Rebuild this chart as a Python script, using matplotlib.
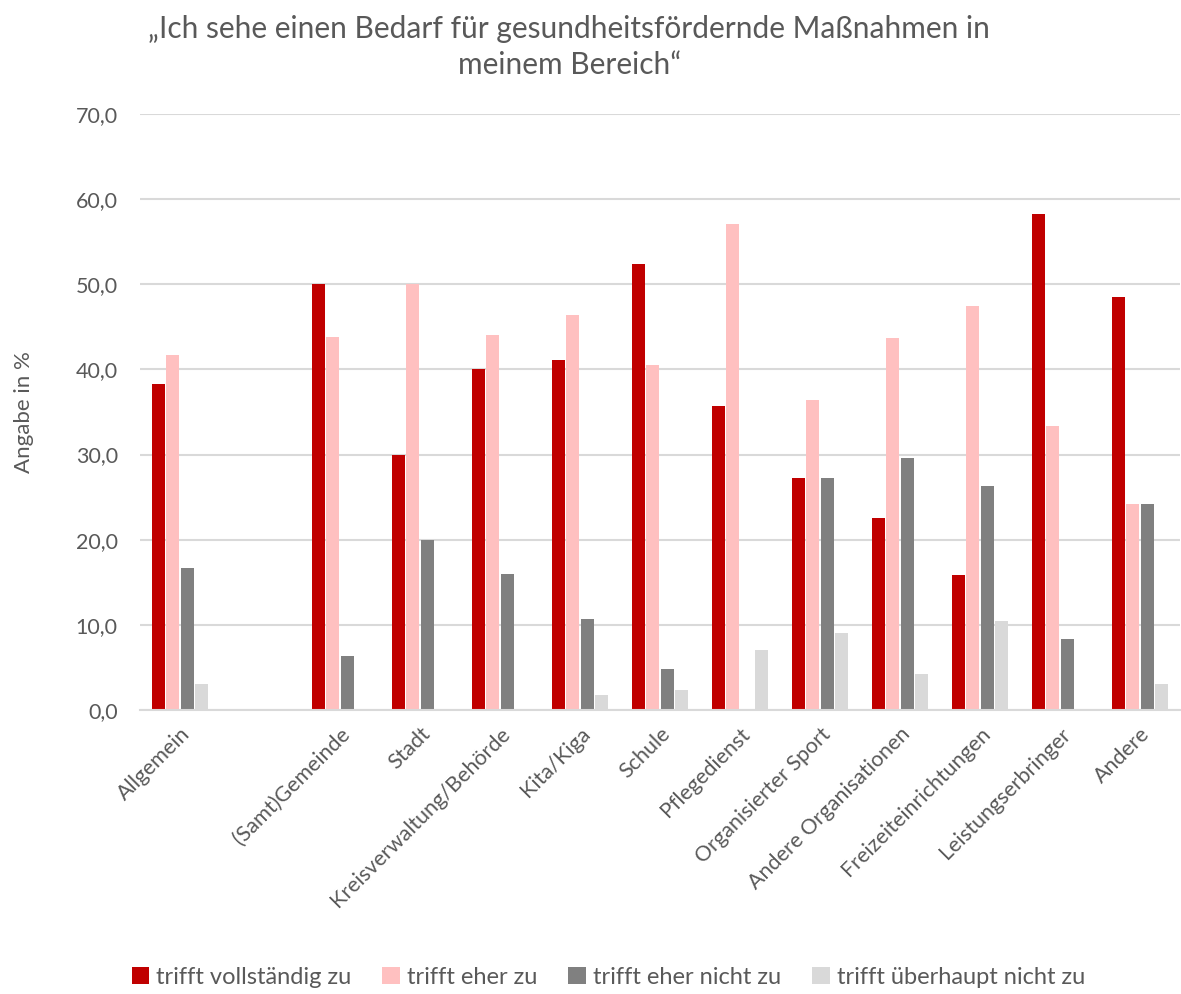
import matplotlib

matplotlib.use("Agg")
import matplotlib.pyplot as plt
import numpy as np
from matplotlib.ticker import FuncFormatter

plt.rcParams["font.family"] = ["Lato", "DejaVu Sans"]

# Daten (Angabe in %)
categories = ["Allgemein", "", "(Samt)Gemeinde", "Stadt", "Kreisverwaltung/Behörde", "Kita/Kiga",
              "Schule", "Pflegedienst", "Organisierter Sport", "Andere Organisationen",
              "Freizeiteinrichtungen", "Leistungserbringer", "Andere"]
series_names = ["trifft vollständig zu", "trifft eher zu", "trifft eher nicht zu", "trifft überhaupt nicht zu"]
voll = [38.3, 0, 50.0, 30.0, 40.0, 41.1, 52.4, 35.7, 27.3, 22.5, 15.8, 58.3, 48.5]
eher = [41.7, 0, 43.8, 50.0, 44.0, 46.4, 40.5, 57.1, 36.4, 43.7, 47.4, 33.3, 24.2]
eher_nicht = [16.7, 0, 6.3, 20.0, 16.0, 10.7, 4.8, 0, 27.3, 29.6, 26.3, 8.3, 24.2]
gar_nicht = [3.1, 0, 0, 0, 0, 1.8, 2.4, 7.1, 9.1, 4.2, 10.5, 0, 3.0]
colors = ["#c00000", "#ffc0c0", "#808080", "#d9d9d9"]
text_col = "#595959"

fig = plt.figure(figsize=(11.81, 9.94), dpi=100)
ax = fig.add_axes([140 / 1181, 1 - 710 / 994, 1040 / 1181, 596 / 994])

x = np.arange(len(categories))
step = 0.182
for i, (vals, name, c) in enumerate(zip([voll, eher, eher_nicht, gar_nicht], series_names, colors)):
    ax.bar(x + (i - 1.5) * step, vals, width=0.16, color=c, linewidth=0, label=name, zorder=3)

ax.set_xlim(-0.5, len(categories) - 0.5)
ax.set_ylim(0, 70)
ax.set_yticks(np.arange(0, 71, 10))
ax.yaxis.set_major_formatter(FuncFormatter(lambda v, p: f"{v:.1f}".replace(".", ",")))
ax.grid(axis="y", color="#d9d9d9", linewidth=1.5, zorder=0)
for s in ["top", "right", "left"]:
    ax.spines[s].set_visible(False)
ax.spines["bottom"].set_color("#d9d9d9")
ax.spines["bottom"].set_linewidth(1.5)
ax.spines["bottom"].set_zorder(4)
ax.tick_params(axis="both", length=0, labelsize=15.5, colors=text_col)
ax.tick_params(axis="y", pad=16)
ax.tick_params(axis="x", pad=10)
ax.set_xticks(x)
ax.set_xticklabels(categories, rotation=45, ha="right", rotation_mode="anchor")
ax.set_ylabel("Angabe in %", fontsize=16, color=text_col, labelpad=30)

fig.text(0.482, 0.985, "„Ich sehe einen Bedarf für gesundheitsfördernde Maßnahmen in\nmeinem Bereich“",
         ha="center", va="top", fontsize=21.5, color=text_col, linespacing=1.35)

leg = fig.legend(loc="lower center", bbox_to_anchor=(0.515, -0.015), ncol=4, frameon=False, fontsize=17,
                 handlelength=0.75, handleheight=0.75, handletextpad=0.3, columnspacing=1.3)
for t in leg.get_texts():
    t.set_color(text_col)

fig.savefig("out.png", dpi=100)
